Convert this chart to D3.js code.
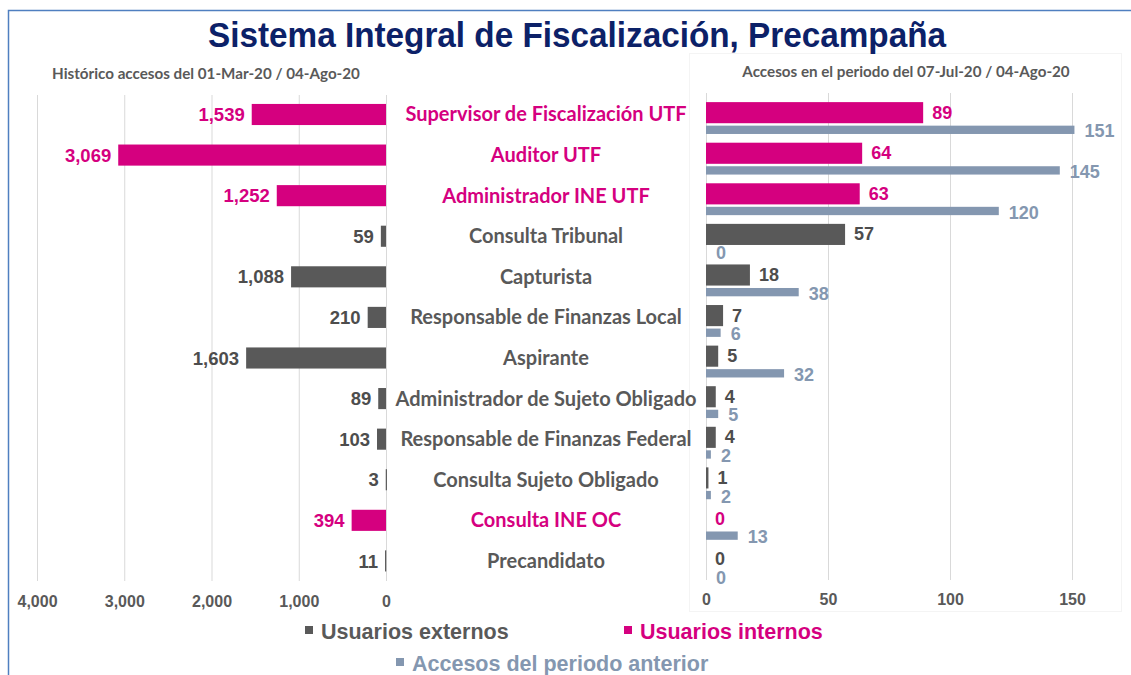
<!DOCTYPE html>
<html>
<head>
<meta charset="utf-8">
<script src="https://cdn.jsdelivr.net/npm/d3@7"></script>
<style>
html,body{margin:0;padding:0;background:#fff;}
svg{display:block;}
</style>
</head>
<body>
<svg id="chart" width="1131" height="675"></svg>
<script>
const categories = ["Supervisor de Fiscalización UTF","Auditor UTF","Administrador INE UTF","Consulta Tribunal","Capturista","Responsable de Finanzas Local","Aspirante","Administrador de Sujeto Obligado","Responsable de Finanzas Federal","Consulta Sujeto Obligado","Consulta INE OC","Precandidato"];
const tipoUsuario = ["interno","interno","interno","externo","externo","externo","externo","externo","externo","externo","interno","externo"];
const historico = [1539,3069,1252,59,1088,210,1603,89,103,3,394,11];
const periodoActual = [89,64,63,57,18,7,5,4,4,1,0,0];
const periodoAnterior = [151,145,120,0,38,6,32,5,2,2,13,0];
const leftTicks = [4000,3000,2000,1000,0];
const rightTicks = [0,50,100,150];
const titleText = "Sistema Integral de Fiscalización, Precampaña";
const leftSubtitle = "Histórico accesos del 01-Mar-20 / 04-Ago-20";
const rightSubtitle = "Accesos en el periodo del 07-Jul-20 / 04-Ago-20";
const legendItems = ["Usuarios externos","Usuarios internos","Accesos del periodo anterior"];

const PINK = "#d5007f", DARK = "#595959", DARKTXT = "#4d4d4d", BLUE = "#8497b0", GRID = "#d9d9d9";
const colorOf = t => t === "interno" ? PINK : DARK;
const txtOf = t => t === "interno" ? PINK : DARKTXT;
const catOf = t => t === "interno" ? PINK : "#595959";
const fmt = d3.format(",");
const ARIAL = "'Liberation Sans', Arial, sans-serif";
const CAL = "Lato, 'Open Sans', sans-serif";

const svg = d3.select("#chart");

// outer border
svg.append("path").attr("d","M8.5,675 L8.5,10.5 L1131,10.5").attr("fill","none").attr("stroke","#4f7fc0").attr("stroke-width",1.5);

// right plot frame (very faint)
svg.append("rect").attr("x",689.5).attr("y",53.5).attr("width",432).attr("height",558).attr("fill","none").attr("stroke","#f4f4f4");

// title
svg.append("text").attr("x",577).attr("y",47).attr("text-anchor","middle")
  .attr("font-family",ARIAL).attr("font-weight","bold").attr("font-size",35)
  .attr("fill","#0c2168").attr("textLength",738).attr("lengthAdjust","spacingAndGlyphs").text(titleText);

svg.append("text").attr("x",206).attr("y",79).attr("text-anchor","middle")
  .attr("font-family",CAL).attr("font-weight","bold").attr("font-size",15.2).attr("fill","#595959").text(leftSubtitle);
svg.append("text").attr("x",906).attr("y",77).attr("text-anchor","middle")
  .attr("font-family",CAL).attr("font-weight","bold").attr("font-size",15.2).attr("fill","#595959").text(rightSubtitle);

const y = d3.scaleBand().domain(categories).range([94, 581]).padding(0);
const bw = y.bandwidth();
const xL = d3.scaleLinear().domain([0,4000]).range([386,37]);
const xR = d3.scaleLinear().domain([0,150]).range([706,1072]);

// gridlines
svg.append("g").selectAll("line").data(leftTicks).join("line")
  .attr("x1",d=>xL(d)+0.5).attr("x2",d=>xL(d)+0.5).attr("y1",95).attr("y2",581)
  .attr("stroke",GRID).attr("stroke-width",1);
svg.append("g").selectAll("line").data(rightTicks).join("line")
  .attr("x1",d=>xR(d)+0.5).attr("x2",d=>xR(d)+0.5).attr("y1",93).attr("y2",580)
  .attr("stroke",GRID).attr("stroke-width",1);

// axis labels
const axL = d3.axisBottom(xL).tickValues(leftTicks).tickFormat(fmt).tickSize(0).tickPadding(0);
const gL = svg.append("g").attr("transform","translate(0,596)").call(axL);
const axR = d3.axisBottom(xR).tickValues(rightTicks).tickFormat(fmt).tickSize(0).tickPadding(0);
const gR = svg.append("g").attr("transform","translate(0,594)").call(axR);
[gL,gR].forEach(g=>{
  g.select(".domain").remove();
  g.selectAll("text").attr("font-family",ARIAL).attr("font-weight","bold").attr("font-size",16).attr("fill","#595959").attr("dy","0.71em").attr("y",0);
});

const rows = categories.map((c,i)=>({c, t:tipoUsuario[i], h:historico[i], a:periodoActual[i], p:periodoAnterior[i]}));

// left bars
svg.append("g").selectAll("rect").data(rows).join("rect")
  .attr("x",d=>xL(d.h)).attr("width",d=>Math.max(xL(0)-xL(d.h),1.2))
  .attr("y",d=>y(d.c)+bw*0.245).attr("height",bw*0.52).attr("fill",d=>colorOf(d.t));
svg.append("g").selectAll("text").data(rows).join("text")
  .attr("x",d=>xL(d.h)-7).attr("y",d=>y(d.c)+bw*0.505).attr("dy","0.36em").attr("text-anchor","end")
  .attr("font-family",ARIAL).attr("font-weight","bold").attr("font-size",18.5).attr("fill",d=>txtOf(d.t))
  .text(d=>fmt(d.h));

// category labels
svg.append("g").selectAll("text").data(rows).join("text")
  .attr("x",546).attr("y",d=>y(d.c)+bw*0.5).attr("dy","0.36em").attr("text-anchor","middle")
  .attr("font-family",CAL).attr("font-weight","bold").attr("font-size",20).attr("fill",d=>catOf(d.t))
  .text(d=>d.c);

// right bars current
svg.append("g").selectAll("rect").data(rows).join("rect")
  .attr("x",xR(0)).attr("width",d=>d.a>0?Math.max(xR(d.a)-xR(0),2):0)
  .attr("y",d=>y(d.c)+bw*0.2).attr("height",bw*0.52).attr("fill",d=>colorOf(d.t));
svg.append("g").selectAll("text").data(rows).join("text")
  .attr("x",d=>xR(d.a)+9).attr("y",d=>y(d.c)+bw*0.45).attr("dy","0.36em")
  .attr("font-family",ARIAL).attr("font-weight","bold").attr("font-size",18).attr("fill",d=>txtOf(d.t))
  .text(d=>fmt(d.a));

// right bars previous
svg.append("g").selectAll("rect").data(rows).join("rect")
  .attr("x",xR(0)).attr("width",d=>d.p>0?Math.max(xR(d.p)-xR(0),2):0)
  .attr("y",d=>y(d.c)+bw*0.78).attr("height",bw*0.205).attr("fill",BLUE);
svg.append("g").selectAll("text").data(rows).join("text")
  .attr("x",d=>xR(d.p)+10).attr("y",d=>y(d.c)+bw*0.9).attr("dy","0.38em")
  .attr("font-family",ARIAL).attr("font-weight","bold").attr("font-size",18).attr("fill",BLUE)
  .text(d=>fmt(d.p));

// legend
const legend = [
  {t:legendItems[0], c:DARK, tc:DARK, sx:305, ty:631},
  {t:legendItems[1], c:PINK, tc:PINK, sx:624, ty:631},
  {t:legendItems[2], c:BLUE, tc:BLUE, sx:396, ty:663}
];
const lg = svg.append("g").selectAll("g").data(legend).join("g");
lg.append("rect").attr("x",d=>d.sx).attr("y",d=>d.ty-5).attr("width",8).attr("height",8).attr("fill",d=>d.c);
lg.append("text").attr("x",d=>d.sx+16).attr("y",d=>d.ty).attr("dy","0.36em")
  .attr("font-family",ARIAL).attr("font-weight","bold").attr("font-size",21.5).attr("fill",d=>d.tc).text(d=>d.t);
</script>
</body>
</html>
